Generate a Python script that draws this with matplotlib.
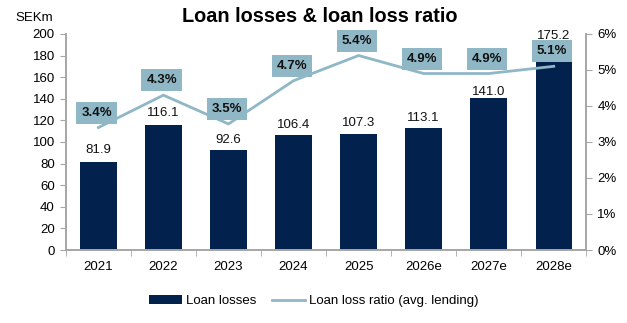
import matplotlib
matplotlib.use("Agg")
import matplotlib.pyplot as plt
from matplotlib.ticker import FuncFormatter, FixedLocator

plt.rcParams['font.family'] = ['Liberation Sans', 'DejaVu Sans']

years = ["2021", "2022", "2023", "2024", "2025", "2026e", "2027e", "2028e"]
loan_losses = [81.9, 116.1, 92.6, 106.4, 107.3, 113.1, 141.0, 175.2]
loss_ratio = [3.4, 4.3, 3.5, 4.7, 5.4, 4.9, 4.9, 5.1]
# vertical offset (points) of each bar value label
bar_label_offset = [8.3, 8.4, 7.4, 7.4, 7.9, 7.4, 4.0, 17.5]

navy = "#03214d"
teal = "#8fb7c6"
grey = "#a6a6a6"

fig = plt.figure(figsize=(6.27, 3.23), dpi=100)
ax = fig.add_axes([0.105, 0.226, 0.83, 0.669])
ax2 = ax.twinx()

x = list(range(len(years)))
ax.bar(x, loan_losses, width=0.56, color=navy, zorder=2, label="Loan losses")
ax2.plot(x, loss_ratio, color=teal, lw=2, zorder=3, label="Loan loss ratio (avg. lending)")

ax.set_xlim(-0.5, len(years) - 0.5)
ax.set_ylim(0, 200)
ax2.set_ylim(0, 6)
ax.set_yticks(range(0, 201, 20))
ax2.set_yticks(range(0, 7))
ax2.yaxis.set_major_formatter(FuncFormatter(lambda v, p: f"{v:.0f}%"))

ax.set_xticks(x)
ax.set_xticklabels(years)
ax.xaxis.set_minor_locator(FixedLocator([i - 0.5 for i in range(len(years) + 1)]))
ax.tick_params(axis='x', which='major', length=0, pad=8, labelsize=9.5)
ax.tick_params(axis='x', which='minor', length=4, color=grey, direction='out')
ax.tick_params(axis='y', length=4, color=grey, labelsize=9.5, pad=4)
ax2.tick_params(axis='y', length=4, color=grey, labelsize=9.5, pad=4)

for a in (ax, ax2):
    a.spines['top'].set_visible(False)
    for s in ('left', 'right', 'bottom'):
        a.spines[s].set_color(grey)
        a.spines[s].set_linewidth(1.2)

for xi, v, off in zip(x, loan_losses, bar_label_offset):
    ax.annotate(f"{v:.1f}", (xi, v), xytext=(0, off), textcoords='offset points',
                ha='center', va='center', fontsize=9.5, color='#111111', zorder=5)

for xi, r in zip(x, loss_ratio):
    ax2.annotate(f"{r:.1f}%", (xi, r), xytext=(-1.2, 10.8), textcoords='offset points',
                 ha='center', va='center', fontsize=9.5, fontweight='bold', color='#111111',
                 bbox=dict(boxstyle='square,pad=0.38', fc=teal, ec='none'), zorder=6)

ax2.set_zorder(ax.get_zorder() + 1)
ax2.patch.set_visible(False)

fig.text(0.51, 0.948, "Loan losses & loan loss ratio", ha='center', va='center',
         fontsize=14.3, fontweight='bold')
fig.text(0.054, 0.944, "SEKm", ha='center', va='center', fontsize=9.5)

h1, l1 = ax.get_legend_handles_labels()
h2, l2 = ax2.get_legend_handles_labels()
fig.legend(h1 + h2, l1 + l2, loc='center', bbox_to_anchor=(0.5, 0.068), ncol=2,
           frameon=False, fontsize=9.5, handlelength=2.5, handleheight=0.6,
           columnspacing=1.2, handletextpad=0.3)

fig.savefig("out.png", dpi=100)
